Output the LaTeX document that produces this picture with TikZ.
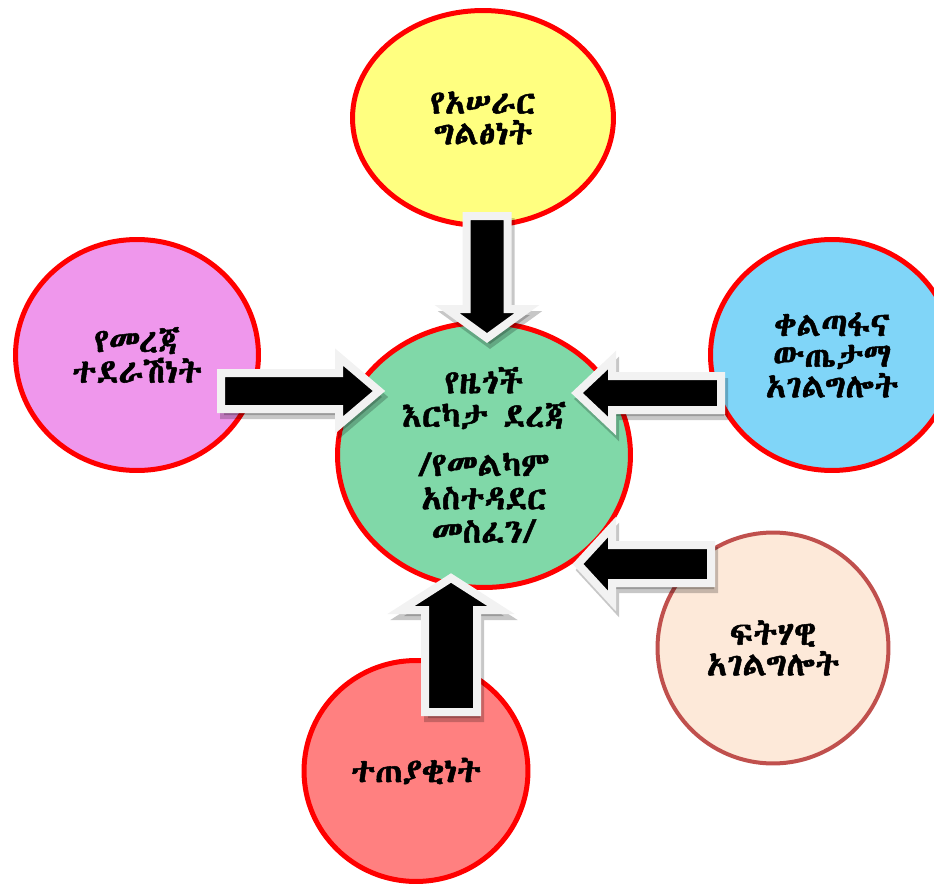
\documentclass[tikz,border=0pt]{standalone}
\usepackage{fontspec}
\IfFontExistsTF{Abyssinica SIL}
  {\newfontfamily\geez[FakeBold=1.5]{Abyssinica SIL}}
  {\newfontfamily\geez[FakeBold=2]{FreeSerif}}
\usetikzlibrary{shapes.geometric}
\definecolor{yellowfill}{HTML}{FFFF80}
\definecolor{pinkfill}{HTML}{EF97EC}
\definecolor{bluefill}{HTML}{80D5F8}
\definecolor{greenfill}{HTML}{80D8A8}
\definecolor{peachfill}{HTML}{FDE9D9}
\definecolor{salmonfill}{HTML}{FF8080}
\definecolor{peachrim}{HTML}{C0504D}
\definecolor{arrowrim}{HTML}{F2F2F2}

\tikzset{
  bubble/.style={ellipse, draw=red, line width=0.1cm, inner sep=0pt, align=center,
    font=\geez\fontsize{19}{17.5}\selectfont},
  arrowbody/.style={fill=black, draw=arrowrim, line width=0.16cm, miter limit=10},
  arrowshadow/.style={fill=black, draw=black, opacity=0.22, line width=0.16cm},
}

% #1,#2 tail, #3 angle, #4 length, #5 shaft half width, #6 head half width, #7 head length
\newcommand{\blockarrow}[7]{%
  \begin{scope}[shift={(#1+3,#2+6)},rotate=#3]
    \filldraw[arrowshadow] (0,-#5) -- (#4-#7,-#5) -- (#4-#7,-#6) -- (#4,0)
      -- (#4-#7,#6) -- (#4-#7,#5) -- (0,#5) -- cycle;
  \end{scope}
  \begin{scope}[shift={(#1,#2)},rotate=#3]
    \filldraw[arrowbody] (0,-#5) -- (#4-#7,-#5) -- (#4-#7,-#6) -- (#4,0)
      -- (#4-#7,#6) -- (#4-#7,#5) -- (0,#5) -- cycle;
  \end{scope}}

\begin{document}
\begin{tikzpicture}[x=0.02cm,y=-0.02cm]
\useasboundingbox (0,0) rectangle (934,886);

% the six bubbles
\node[bubble, fill=yellowfill, minimum width=5.22cm, minimum height=4.3cm] (openness) at (483,118) {የአሠራር\\ግልፅነት};
\node[bubble, fill=pinkfill, minimum width=4.86cm, minimum height=4.62cm] (access) at (137,355) {የመረጃ\\ተደራሽነት};
\node[bubble, fill=bluefill, minimum width=4.86cm, minimum height=4.62cm] (service) at (832,355) {ቀልጣፋና\\ውጤታማ\\አገልግሎት};
\node[bubble, fill=greenfill, minimum width=5.86cm, minimum height=5.3cm,
  font=\geez\fontsize{19}{19}\selectfont] (satisfaction) at (484,455)
  {የዜጎች\\እርካታ ደረጃ\\[9pt]/የመልካም\\አስተዳደር\\መስፈን/};
\node[bubble, fill=peachfill, draw=peachrim, line width=0.08cm, minimum width=4.62cm, minimum height=4.62cm] (fairness) at (773,648) {ፍትሃዊ\\አገልግሎት};
\node[bubble, fill=salmonfill, minimum width=4.48cm, minimum height=4.42cm] (accountability) at (416,771) {ተጠያቂነት};

% block arrows into the middle
\blockarrow{487}{216}{-90}{122}{20.5}{40}{29}
\blockarrow{221}{391}{0}{158}{18}{34}{40}
\blockarrow{721}{393}{180}{144}{17}{33}{35}
\blockarrow{711}{564}{180}{133}{19}{37}{34}
\blockarrow{451}{712}{90}{134}{26}{50}{32}
\end{tikzpicture}
\end{document}
